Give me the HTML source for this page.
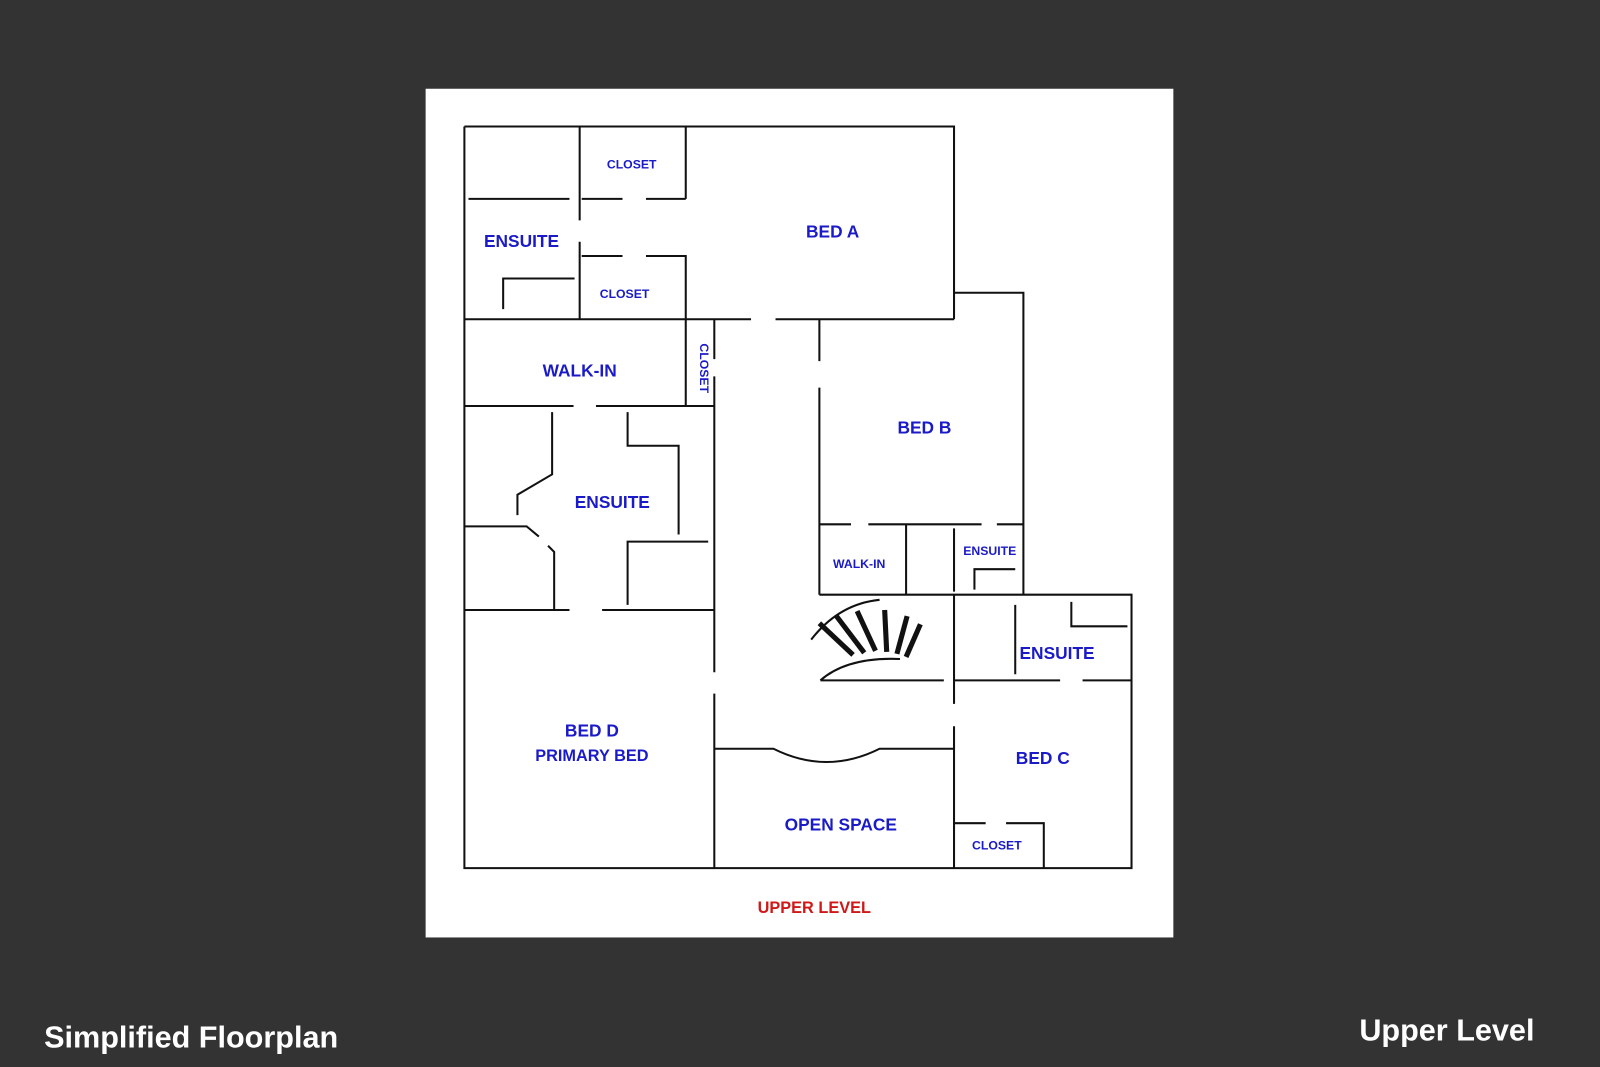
<!DOCTYPE html>
<html><head><meta charset="utf-8"><style>
html,body{margin:0;padding:0;background:#333333;width:1600px;height:1067px;overflow:hidden}
svg{display:block}
.w{stroke:#111;stroke-width:2;fill:none}
.t{font-family:"Liberation Sans",sans-serif;font-weight:bold;fill:#1a1ac8;text-anchor:middle}
</style></head><body>
<svg width="1600" height="1067" viewBox="0 0 1568 1046" xmlns="http://www.w3.org/2000/svg">
<rect x="417" y="87" width="733" height="832" fill="#fff"/>
<g class="w">
<path d="M455 124H935V313M455 124V851H1109V583H803"/>
<path d="M455 313H736M760 313H935M935 287H1003V583"/>
<path d="M568 124V216M568 237V313M672 124V195M459 195H558M570 195H610M633 195H672"/>
<path d="M570 251H610M633 251H672V313M493 303V273H563"/>
<path d="M672 313V398M455 398H562M584 398H700M700 313V352M700 369V659M700 680V851"/>
<path d="M803 313V354M803 380V583M803 514H834M851 514H962M977 514H1003M888 514V583M935 518V580M955 578V558H995"/>
<path d="M935 583V690M935 712V851M995 593V661M1050 590V614H1105M935 667H1039M1061 667H1109"/>
<path d="M935 807H966M986 807H1023V851"/>
<path d="M700 734H758Q810 760 862 734H935"/>
<path d="M541 404V465L507 485V505M615 404V437H665V524M455 516H516L528 526M537 535L543 541V598M615 593V531H694M455 598H558M590 598H700"/>
<path d="M804 667H925M804 667Q830 644 882 646M795 627Q822 592 862 588"/>
</g>
<g stroke="#111" stroke-width="5" stroke-linecap="butt">
<line x1="836" y1="642" x2="803" y2="611"/>
<line x1="847" y1="640" x2="819" y2="603"/>
<line x1="858" y1="638" x2="840" y2="599"/>
<line x1="869" y1="639" x2="867" y2="598"/>
<line x1="879" y1="641" x2="889" y2="604"/>
<line x1="888" y1="644" x2="902" y2="612"/>
</g>
<g class="t">
<text x="619" y="165" font-size="12">CLOSET</text>
<text x="612" y="292" font-size="12">CLOSET</text>
<text x="511" y="242" font-size="17">ENSUITE</text>
<text x="816" y="233" font-size="17">BED A</text>
<text x="568" y="369" font-size="17">WALK-IN</text>
<text x="600" y="498" font-size="17">ENSUITE</text>
<text x="906" y="425" font-size="17">BED B</text>
<text x="842" y="557" font-size="12">WALK-IN</text>
<text x="970" y="544" font-size="12">ENSUITE</text>
<text x="1036" y="646" font-size="17">ENSUITE</text>
<text x="1022" y="749" font-size="17">BED C</text>
<text x="977" y="833" font-size="12">CLOSET</text>
<text x="824" y="814" font-size="17">OPEN SPACE</text>
<text x="580" y="722" font-size="17">BED D</text>
<text x="580" y="746" font-size="16">PRIMARY BED</text>
<text x="686" y="361" font-size="12" transform="rotate(90 686 361)">CLOSET</text>
<text x="798" y="895" font-size="16" style="fill:#d01818">UPPER LEVEL</text>
</g>
<text x="43" y="1027" font-family="Liberation Sans,sans-serif" font-weight="bold" font-size="30" fill="#fff">Simplified Floorplan</text>
<text x="1504" y="1020" font-family="Liberation Sans,sans-serif" font-weight="bold" font-size="30" fill="#fff" text-anchor="end">Upper Level</text>
</svg>
</body></html>
